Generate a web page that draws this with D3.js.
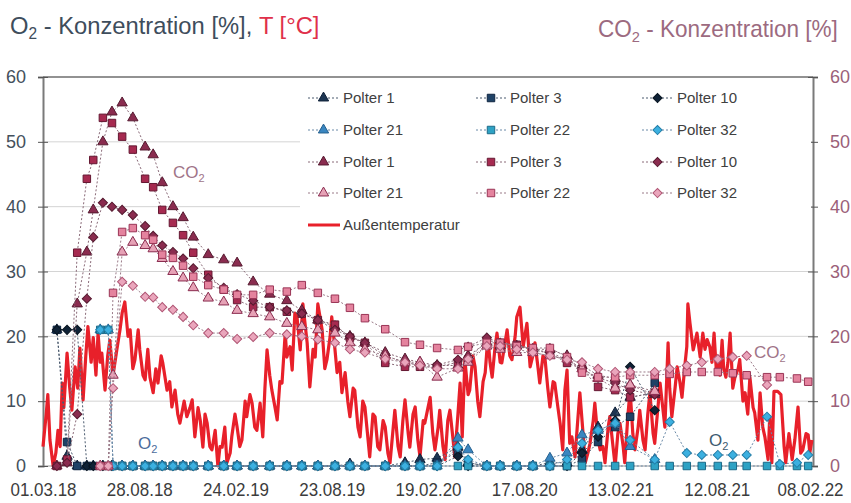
<!DOCTYPE html>
<html>
<head>
<meta charset="utf-8">
<script src="https://cdn.jsdelivr.net/npm/d3@7"></script>
<style>
  body { margin: 0; background: #fff; }
  text { font-family: "Liberation Sans", Arial, sans-serif; }
</style>
</head>
<body>
<div id="chart"></div>
<script>
// Time axis: days counted from 01.03.18, tick every 180 days
const startDate = new Date(Date.UTC(2018, 2, 1));
const endDate = new Date(Date.UTC(2022, 1, 8));
const xTickStepDays = 180;
const yTicks = [0, 10, 20, 30, 40, 50, 60];

// Measurement days (since 01.03.18) for Polter 1/3/10 and Polter 21/22/32
const daysA = [26, 45, 64, 82, 94, 112, 129, 148, 168, 191, 206, 223, 243, 262, 281, 309, 338, 363, 393, 424,
  456, 484, 514, 546, 574, 602, 640, 677, 705, 737, 776, 795, 830, 855, 886, 916, 948, 980, 1008, 1038,
  1070, 1098, 1144];
const daysB = [107, 122, 131, 148, 168, 191, 206, 223, 243, 262, 281, 309, 338, 363, 393, 424, 456, 484, 514, 546,
  574, 602, 640, 677, 705, 737, 776, 795, 830, 855, 886, 916, 948, 980, 1008, 1038, 1070, 1098, 1144, 1172,
  1204, 1232, 1262, 1290, 1316, 1354, 1378, 1410, 1431];

// O2 [%]
const o2Polter1 = [21, 1.5, 0, 0, 0, 0, 0, 0, 0, 0, 0, 0, 0, 0, 0, 0, 0, 0, 0, 0,
  0, 0, 0, 0, 0.3, 0, 0, 0.5, 1, 1.2, 2.9, 0.5, 0, 0, 0, 0, 0.5, 0.5, 2.5, 6, 8.2, 10.6, 11.3];
const o2Polter3 = [21, 3.7, 0, 0, 0, 0, 0, 0, 0, 0, 0, 0, 0, 0, 0, 0, 0, 0, 0, 0,
  0, 0, 0, 0, 0, 0, 0, 0, 0, 0.5, 2.2, 0.5, 0, 0, 0, 0, 0, 0, 1, 3.7, 6, 7.6, 12.8];
const o2Polter10 = [21, 21, 21, 0, 0, 0, 0, 0, 0, 0, 0, 0, 0, 0, 0, 0, 0, 0, 0, 0,
  0, 0, 0, 0, 0, 0, 0, 0, 0, 0, 1.5, 0, 0, 0, 0, 0, 0, 0, 2, 4.5, 7, 15.3, 8.6];
const o2Polter21 = [21, 21, 0, 0, 0, 0, 0, 0, 0, 0, 0, 0, 0, 0, 0, 0, 0, 0, 0, 0,
  0, 0, 0, 0, 0, 0, 4.3, 2.5, 0, 0, 0, 0, 1.2, 2, 4.8, 5.5, 6.6, 3, 1, null,
  null, null, null, null, null, null, null, null, null];
const o2Polter22 = [21, 21, 0, 0, 0, 0, 0, 0, 0, 0, 0, 0, 0, 0, 0, 0, 0, 0, 0, 0,
  0, 0, 0, 0, 0, 0, 0, 0, 0, 0, 0, 0, 0, 0, 0, 0, 0, 0, 0, 0,
  0, 0, 0, 0, 0, 0, 0, 0, 0];
const o2Polter32 = [21, 21, 0, 0, 0, 0, 0, 0, 0, 0, 0, 0, 0, 0, 0, 0, 0, 0, 0, 0,
  0, 0, 0, 0, 0, 0, 2.9, 1, 0, 0, 0, 0, 0, 1, 3.5, 5.5, 6.6, 4, 1, 6.8,
  2, 1.7, 1.7, 1.7, 1.7, 7.6, 0.3, 0.5, 1.7];

// CO2 [%]
const co2Polter1 = [0, 0.5, 25, 33, 39.5, 50, 54.6, 56, 53.7, 49.2, 48, 43.7, 40, 38.3, 35.3, 32.6, 31.8, 31.3, 28.4, 26.5,
  25.5, 24, 22.5, 21.5, 20, 19, 17.5, 16.5, 16, 15.5, 15.5, 17, 19, 18.5, 18.5, 18, 18, 17, 15.5, 14, 13.5, 12.5, 11];
const co2Polter3 = [0, 1, 32.9, 44.3, 47.2, 53.7, 52.9, 50.8, 48.8, 44.3, 43, 39.5, 37.5, 35.6, 32.9, 29.5, 27.2, 25.6, 24.5, 24.5,
  23.8, 23.5, 22.5, 21.8, 19.8, 19, 15.9, 15.3, 15.3, 15.3, 16, 16.4, 19.4, 19, 18.7, 17.9, 17.4, 15.9, 15, 12.2, 11.7, 10.6, 11.3];
const co2Polter10 = [0, 0.5, 8, 25.8, 35.3, 40.6, 40, 39.5, 38.7, 37, 35.5, 34, 33, 32, 30.5, 29, 27.5, 26.5, 25.5, 24.5,
  24, 23.5, 22.5, 21, 20, 19, 17, 16, 15.5, 15.6, 16.4, 18.4, 19.8, 19, 18.5, 18, 17.5, 16.4, 15, 13.6, 12.8, 11.7, 11];
const co2Polter21 = [0, 0, 14, 33, 34.5, 34, 33.5, 32, 30, 29, 27.5, 25.9, 25.3, 24, 23.5, 23, 22, 21.5, 21, 20.5,
  19, 18, 17, 16, 16, 13.7, 15.1, 16, 18.5, 18, 17.5, 17.5, 17, 16.5, 15, 13.5, 12, 12.5, 11.5, null,
  null, null, null, null, null, null, null, null, null];
const co2Polter22 = [0, 0, 26.7, 36.1, 36.7, 35.6, 34.9, 32.6, 32.1, 30.9, 29.2, 27.9, 27.2, 26.4, 26.4, 27.2, 26.9, 27.9, 26.7, 25.8,
  24.4, 22.8, 21.1, 19.1, 18.7, 18.2, 17.9, 18.4, 19, 19, 18.5, 18.2, 18.2, 16.8, 14.4, 13.7, 13.7, 14, 14, 14.2,
  14.5, 14.5, 14.5, 14.3, 14, 13.7, 13.7, 13.5, 13];
const co2Polter32 = [0, 0, 12, 28.4, 27.8, 26.1, 26, 24.5, 24.1, 23, 21.7, 20.5, 20.5, 19.6, 19.9, 20.5, 20.3, 20, 19.5, 19,
  18, 17.5, 16.5, 16, 15.5, 15, 15, 16.5, 18.5, 18.5, 18, 17.5, 17, 16.4, 16, 15, 14.5, 14.5, 14.5, 15,
  15.5, 16, 16.5, 16.8, 17, 12.5, null, null, null];

// Außentemperatur [°C]: [day since 01.03.18, value]
const tempReadings = [[0,3],[6,8],[9,11],[13,4],[19,0],[24,2],[28,5.5],[32,3],[36,12.8],[39,9],[45,17.4],[50,12],[54,8.6],[60,15.3],[65,12],[69,18.2],[75,10.2],[80,17],[84,21.5],[90,16],[94,19.8],[99,14],[103,20.5],[107,16],[110,17.4],[116,11.7],[121,17],[125,19.4],[131,14],[138,17.9],[144,21],[148,23.6],[153,25.3],[159,20],[163,21],[168,15],[172,16.4],[178,21],[181,17.9],[187,14],[191,13.3],[196,18],[200,13.7],[206,11.3],[211,15],[215,12.8],[221,17],[224,15.9],[232,11.7],[237,13],[241,9.1],[247,11.7],[252,8],[256,6.6],[264,10],[269,7.6],[275,9],[279,10.2],[284,4.5],[290,9],[294,7.1],[299,2.9],[303,8],[307,6.6],[312,3],[316,2.5],[322,5.5],[327,0],[331,3],[335,2.9],[340,6],[344,0.5],[350,2],[353,4.5],[359,8],[363,6],[368,3],[372,4],[378,10],[381,7.6],[387,11],[391,9.7],[396,6],[400,5.5],[406,9.7],[411,4.5],[415,12],[419,17.9],[424,14],[428,11.7],[434,9],[438,7.1],[443,13],[447,12.8],[453,20.5],[456,16.8],[462,18.4],[466,14.8],[471,23.6],[475,23],[481,17.9],[486,25],[494,19],[499,12.2],[505,18],[509,16.8],[514,25],[522,21],[527,15],[531,16.4],[537,20],[540,23],[546,18],[550,14.4],[555,16],[559,11.3],[565,14.4],[570,10],[574,7.6],[580,12],[583,11.7],[589,6],[593,4.5],[598,10],[602,9.1],[608,4],[611,1.4],[617,8],[621,7.6],[626,3],[630,2.5],[636,7],[640,6],[645,2],[649,0.5],[655,6],[658,8.6],[664,3],[668,1.4],[673,7],[677,10.2],[683,5],[686,2.9],[692,8],[696,9.1],[701,4],[705,1.4],[711,7],[714,6.6],[720,9],[724,10.6],[729,5],[733,2.5],[739,6],[742,8.6],[748,3],[752,1],[757,7],[761,8.6],[767,4],[770,1.4],[776,8],[780,12.8],[784,4.5],[789,16.4],[795,11],[798,11.7],[804,17],[808,15.3],[813,10],[817,7.6],[823,13],[827,14.4],[832,19.9],[836,16],[840,13.7],[845,18],[849,20.5],[855,16],[858,15.9],[864,19],[868,21],[873,17],[877,16.4],[883,20],[886,23],[892,24.5],[898,18.4],[901,20],[905,22],[911,15.3],[916,17],[920,19],[926,15],[929,12.8],[935,17],[939,16.4],[944,12],[948,9.1],[954,13],[957,12.8],[963,9],[967,6.6],[972,2.5],[976,11.7],[980,14.8],[985,3.5],[989,4.5],[995,1.4],[1000,7],[1004,11.3],[1010,5],[1014,0.5],[1019,2],[1023,3.5],[1029,7],[1032,9.7],[1038,4],[1042,2.5],[1047,3],[1051,0.5],[1057,6],[1060,7.6],[1066,3],[1070,0],[1075,5],[1079,6.6],[1085,3],[1088,0.5],[1094,8],[1098,11.7],[1103,5],[1107,2.5],[1113,6],[1116,8.6],[1122,4],[1126,2.5],[1131,8],[1135,11.3],[1141,5],[1144,3.5],[1150,9],[1154,12.8],[1159,9],[1163,6],[1169,19],[1172,12],[1176,7.6],[1182,12],[1186,15.3],[1191,13],[1195,10.6],[1201,16],[1204,18.4],[1206,25],[1210,22],[1216,17.9],[1219,19],[1223,20.5],[1229,16.8],[1234,20.5],[1238,18],[1242,19.5],[1247,18.4],[1251,16],[1255,20.5],[1259,15],[1262,16.4],[1266,14],[1270,19.4],[1273,15],[1277,13.7],[1281,16],[1285,20.5],[1290,12],[1294,13.7],[1300,15],[1303,16.4],[1309,10],[1313,11.3],[1318,8],[1322,13.7],[1328,9],[1331,8.2],[1337,4],[1341,11.3],[1346,6],[1350,4.5],[1356,1],[1359,7.6],[1363,0.5],[1367,11.5],[1374,11.5],[1380,11],[1386,3],[1389,0.5],[1395,5],[1401,1],[1406,4],[1412,9.1],[1417,2],[1421,2.5],[1427,5],[1431,4.8],[1434,2],[1438,4]];

const o2Series = [
  { name: 'Polter 1', days: daysA, values: o2Polter1, shape: 'triangle', fill: '#1d3552', stroke: '#0f2038', line: '#4a5a6e' },
  { name: 'Polter 3', days: daysA, values: o2Polter3, shape: 'square', fill: '#1f4266', stroke: '#0f2540', line: '#4a5a6e' },
  { name: 'Polter 10', days: daysA, values: o2Polter10, shape: 'diamond', fill: '#0f2236', stroke: '#081420', line: '#4a5a6e' },
  { name: 'Polter 21', days: daysB, values: o2Polter21, shape: 'triangle', fill: '#3a86c0', stroke: '#25608f', line: '#6a8aa8' },
  { name: 'Polter 22', days: daysB, values: o2Polter22, shape: 'square', fill: '#2ea2c4', stroke: '#1c6a88', line: '#6a8aa8' },
  { name: 'Polter 32', days: daysB, values: o2Polter32, shape: 'diamond', fill: '#3cb0e0', stroke: '#237ea8', line: '#6a8aa8' }
];
const co2Series = [
  { name: 'Polter 1', days: daysA, values: co2Polter1, shape: 'triangle', fill: '#8a2c4f', stroke: '#561a30', line: '#8a6a78' },
  { name: 'Polter 3', days: daysA, values: co2Polter3, shape: 'square', fill: '#a62a50', stroke: '#641832', line: '#8a6a78' },
  { name: 'Polter 10', days: daysA, values: co2Polter10, shape: 'diamond', fill: '#8a2c4f', stroke: '#561a30', line: '#8a6a78' },
  { name: 'Polter 21', days: daysB, values: co2Polter21, shape: 'triangle', fill: '#e6a2b6', stroke: '#8a2c4f', line: '#9a7a88' },
  { name: 'Polter 22', days: daysB, values: co2Polter22, shape: 'square', fill: '#e4839e', stroke: '#9a3556', line: '#9a7a88' },
  { name: 'Polter 32', days: daysB, values: co2Polter32, shape: 'diamond', fill: '#eaa6bc', stroke: '#b05574', line: '#9a7a88' }
];

const width = 851;
const height = 503;
const svg = d3.select('#chart').append('svg').attr('width', width).attr('height', height);

const x = d3.scaleUtc().domain([startDate, endDate]).range([43, 813]);
const yLeft = d3.scaleLinear().domain([0, 60]).range([466, 77]);
const yRight = d3.scaleLinear().domain([0, 60]).range([466, 77]);
const dayToDate = d => d3.utcDay.offset(startDate, d);

// Gridlines
svg.append('g').selectAll('line')
  .data(yTicks.filter(t => t > 0 && t < 60))
  .join('line')
  .attr('x1', 43).attr('x2', 813)
  .attr('y1', d => yLeft(d)).attr('y2', d => yLeft(d))
  .attr('stroke', '#d4d4d4').attr('stroke-width', 1);

// Frame top and bottom
svg.append('line').attr('x1', 43).attr('x2', 813).attr('y1', yLeft(60)).attr('y2', yLeft(60))
  .attr('stroke', '#6e6e6e').attr('stroke-width', 1.6);
svg.append('line').attr('x1', 43).attr('x2', 813).attr('y1', yLeft(0)).attr('y2', yLeft(0))
  .attr('stroke', '#9a9a9a').attr('stroke-width', 1);

// Axes
const leftAxis = svg.append('g').attr('transform', 'translate(43,0)')
  .call(d3.axisLeft(yLeft).tickValues(yTicks).tickSize(5).tickPadding(12));
leftAxis.select('.domain').attr('stroke', '#7a7a7a').attr('stroke-width', 2);
leftAxis.selectAll('.tick line').attr('x1', 5).attr('stroke', '#555');
leftAxis.selectAll('.tick text').attr('font-size', 18).attr('fill', '#44505c')
  .attr('font-family', '"Liberation Sans", Arial, sans-serif');

const rightAxis = svg.append('g').attr('transform', 'translate(813,0)')
  .call(d3.axisRight(yRight).tickValues(yTicks).tickSize(5).tickPadding(12));
rightAxis.select('.domain').attr('stroke', '#7a7a7a').attr('stroke-width', 2);
rightAxis.selectAll('.tick line').attr('x1', -5).attr('stroke', '#555');
rightAxis.selectAll('.tick text').attr('font-size', 18).attr('fill', '#9b6079')
  .attr('font-family', '"Liberation Sans", Arial, sans-serif');

const xTickDates = d3.range(0, 1441, xTickStepDays).map(dayToDate);
const bottomAxis = svg.append('g').attr('transform', `translate(0,${yLeft(0)})`)
  .call(d3.axisBottom(x).tickValues(xTickDates).tickFormat(d3.utcFormat('%d.%m.%y')).tickSize(0).tickPadding(17));
bottomAxis.select('.domain').remove();
bottomAxis.selectAll('.tick text').attr('font-size', 19).attr('fill', '#3c3c3c')
  .attr('textLength', 66).attr('lengthAdjust', 'spacingAndGlyphs')
  .attr('font-family', '"Liberation Sans", Arial, sans-serif');
// keep the last date label inside the picture
bottomAxis.selectAll('.tick text').filter((d, i, n) => i === n.length - 1)
  .attr('text-anchor', 'end').attr('x', 30);

// Temperature line
const tempLine = d3.line()
  .x(d => x(dayToDate(d[0])))
  .y(d => yLeft(d[1]));
svg.append('path')
  .datum(tempReadings)
  .attr('d', tempLine)
  .attr('fill', 'none')
  .attr('stroke', '#e8202a')
  .attr('stroke-width', 3.2)
  .attr('stroke-linejoin', 'round');

// Marker shapes
const shapePath = {
  triangle: d3.symbol(d3.symbolTriangle, 46)(),
  square: d3.symbol(d3.symbolSquare, 56)(),
  diamond: d3.symbol(d3.symbolSquare, 42)()
};
const markerTransform = (shape, px, py) =>
  `translate(${px},${py})` + (shape === 'diamond' ? ' rotate(45)' : '');

function drawSeries(series, yScale) {
  const pts = series.days
    .map((d, i) => ({ date: dayToDate(d), v: series.values[i] }))
    .filter(p => p.v != null);
  const line = d3.line().x(p => x(p.date)).y(p => yScale(p.v));
  const g = svg.append('g');
  g.append('path')
    .datum(pts)
    .attr('d', line)
    .attr('fill', 'none')
    .attr('stroke', series.line)
    .attr('stroke-width', 1)
    .attr('stroke-dasharray', '2,2');
  g.selectAll('path.marker')
    .data(pts)
    .join('path')
    .attr('class', 'marker')
    .attr('d', shapePath[series.shape])
    .attr('transform', p => markerTransform(series.shape, x(p.date), yScale(p.v)))
    .attr('fill', series.fill)
    .attr('stroke', series.stroke)
    .attr('stroke-width', 1);
}

o2Series.forEach(s => drawSeries(s, yLeft));
co2Series.forEach(s => drawSeries(s, yRight));

// Legend
const legend = svg.append('g');
legend.append('rect').attr('x', 300).attr('y', 84).attr('width', 511).attr('height', 154).attr('fill', '#fff');
const legendCols = [{ line: 308, text: 343 }, { line: 476, text: 510 }, { line: 642, text: 677 }];
const legendRowY = [98, 130, 162, 193, 225];
const legendItems = o2Series.concat(co2Series);
legendItems.forEach((s, i) => {
  const col = legendCols[i % 3];
  const yy = legendRowY[Math.floor(i / 3)];
  const item = legend.append('g');
  item.append('line')
    .attr('x1', col.line).attr('x2', col.text - 4)
    .attr('y1', yy).attr('y2', yy)
    .attr('stroke', s.line).attr('stroke-width', 1).attr('stroke-dasharray', '2,2');
  const mx = (col.line + col.text - 4) / 2;
  item.append('path')
    .attr('d', shapePath[s.shape])
    .attr('transform', markerTransform(s.shape, mx, yy))
    .attr('fill', s.fill).attr('stroke', s.stroke);
  item.append('text')
    .attr('x', col.text).attr('y', yy + 5)
    .attr('font-size', 15).attr('fill', '#404040')
    .text(s.name);
});
legend.append('line')
  .attr('x1', 308).attr('x2', 340).attr('y1', legendRowY[4]).attr('y2', legendRowY[4])
  .attr('stroke', '#e8202a').attr('stroke-width', 3);
legend.append('text')
  .attr('x', 343).attr('y', legendRowY[4] + 5)
  .attr('font-size', 15).attr('fill', '#404040')
  .text('Außentemperatur');

// Chemical label helper (subscript 2)
function chemLabel(parent, base, rest, opts) {
  const t = parent.append('text')
    .attr('font-size', opts.size)
    .attr('fill', opts.color)
    .attr('transform', `translate(${opts.x},${opts.y}) scale(${opts.sx || 1},1)`);
  t.append('tspan').text(base);
  t.append('tspan').attr('font-size', opts.size * 0.65).attr('dy', opts.size * 0.22).text('2');
  if (rest) {
    t.append('tspan').attr('dy', -opts.size * 0.22).text(rest);
  }
  return t;
}

// Titles
const leftTitle = chemLabel(svg, 'O', ' - Konzentration [%], ', { x: 10, y: 34, size: 24, color: '#3e4d5c', sx: 0.99 });
leftTitle.append('tspan').attr('fill', '#e0304a').text('T [°C]');
chemLabel(svg, 'CO', ' - Konzentration [%]', { x: 598, y: 37, size: 23, color: '#9c6a80', sx: 0.98 });

// In-plot annotations
chemLabel(svg, 'CO', null, { x: 173, y: 178, size: 17, color: '#a07488' });
chemLabel(svg, 'O', null, { x: 138, y: 449, size: 17, color: '#4d6c9c' });
chemLabel(svg, 'O', null, { x: 709, y: 446, size: 17, color: '#3d5a70' });
chemLabel(svg, 'CO', null, { x: 754, y: 358, size: 17, color: '#a07488' });
</script>
</body>
</html>
